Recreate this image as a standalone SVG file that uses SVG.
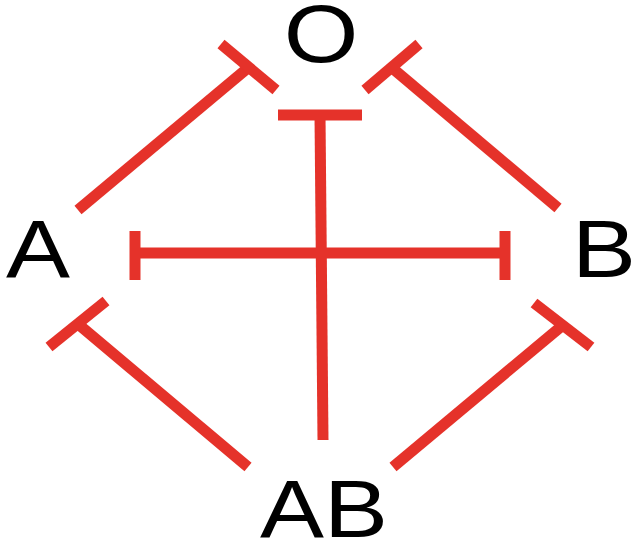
<svg xmlns="http://www.w3.org/2000/svg" width="636" height="540" viewBox="0 0 636 540">
<style>
.c line{stroke:#e5322a;stroke-width:11;stroke-linecap:butt;fill:none}
.t{font-family:"Liberation Sans",Arial,sans-serif;font-size:82px;fill:#000;text-anchor:middle}
</style>
<rect width="636" height="540" fill="#fff"/>
<g id="connectors" class="c">
<line x1="78" y1="210" x2="249" y2="67"/>
<line x1="221" y1="44" x2="276" y2="90"/>
<line x1="558" y1="208" x2="391" y2="67"/>
<line x1="419" y1="44" x2="365" y2="90"/>
<line x1="320" y1="115" x2="323" y2="440"/>
<line x1="278" y1="115" x2="362" y2="115"/>
<line x1="135" y1="253" x2="505" y2="253"/>
<line x1="135" y1="231" x2="135" y2="280"/>
<line x1="505" y1="231" x2="505" y2="280"/>
<line x1="248" y1="467" x2="78" y2="324"/>
<line x1="49" y1="347" x2="106" y2="301"/>
<line x1="393" y1="467" x2="563" y2="325"/>
<line x1="534" y1="303" x2="591" y2="347"/>
</g>
<g id="O"><text class="t" transform="translate(321,62) scale(1.17,1)">O</text></g>
<g id="A"><text class="t" transform="translate(38,277) scale(1.17,1)">A</text></g>
<g id="B"><text class="t" transform="translate(604,277) scale(1.17,1)">B</text></g>
<g id="AB"><text class="t" transform="translate(324,537) scale(1.17,1)">AB</text></g>
</svg>
